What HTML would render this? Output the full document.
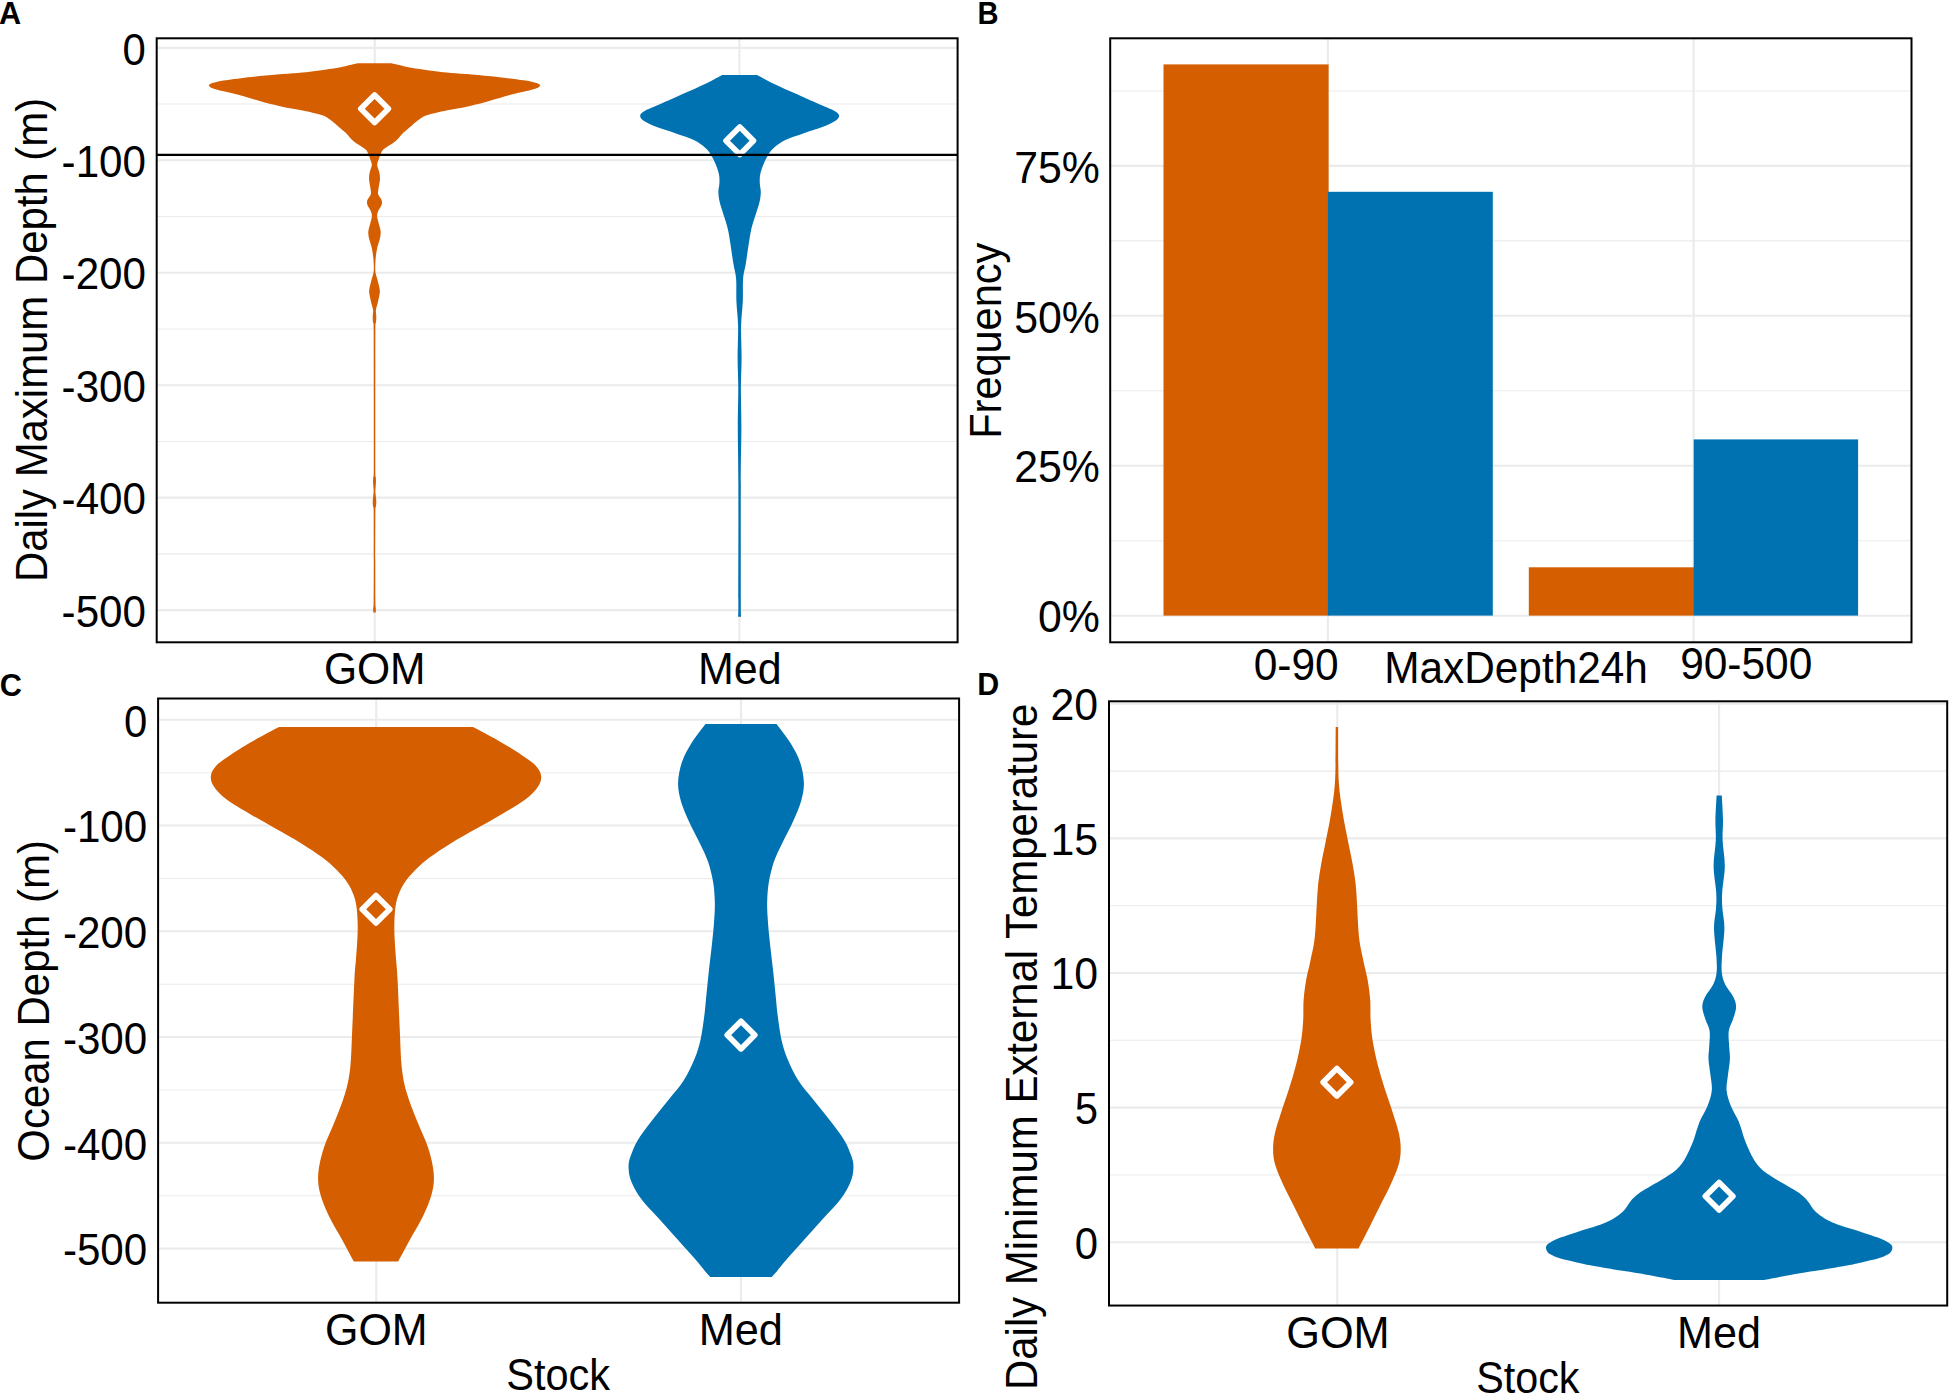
<!DOCTYPE html>
<html><head><meta charset="utf-8"><title>Figure</title>
<style>html,body{margin:0;padding:0;background:#fff;}svg{display:block;}text{font-family:"Liberation Sans",sans-serif;fill:#000;}</style>
</head><body>
<svg width="1949" height="1396" viewBox="0 0 1949 1396">
<rect width="1949" height="1396" fill="#fff"/>
<path d="M156.7 104.08H957.6" stroke="#ebebeb" stroke-width="1.05"/>
<path d="M156.7 216.53H957.6" stroke="#ebebeb" stroke-width="1.05"/>
<path d="M156.7 328.98H957.6" stroke="#ebebeb" stroke-width="1.05"/>
<path d="M156.7 441.43H957.6" stroke="#ebebeb" stroke-width="1.05"/>
<path d="M156.7 553.88H957.6" stroke="#ebebeb" stroke-width="1.05"/>
<path d="M156.7 47.85H957.6" stroke="#ebebeb" stroke-width="2.1"/>
<path d="M156.7 160.30H957.6" stroke="#ebebeb" stroke-width="2.1"/>
<path d="M156.7 272.75H957.6" stroke="#ebebeb" stroke-width="2.1"/>
<path d="M156.7 385.20H957.6" stroke="#ebebeb" stroke-width="2.1"/>
<path d="M156.7 497.65H957.6" stroke="#ebebeb" stroke-width="2.1"/>
<path d="M156.7 610.10H957.6" stroke="#ebebeb" stroke-width="2.1"/>
<path d="M374.80 38.3V642.3" stroke="#ebebeb" stroke-width="2.1"/>
<path d="M739.40 38.3V642.3" stroke="#ebebeb" stroke-width="2.1"/>
<path d="M357.4 63.3C356.7 63.5 355.0 63.8 353.0 64.3C351.0 64.8 349.1 65.4 345.2 66.2C341.3 67.0 334.7 68.2 329.4 69.0C324.1 69.8 318.9 70.5 313.6 71.2C308.4 71.8 304.0 72.4 297.9 73.0C291.8 73.5 284.8 73.9 277.0 74.6C269.2 75.3 259.9 76.1 251.3 77.0C242.7 77.9 231.6 79.4 225.7 80.3C219.7 81.2 218.0 81.7 215.4 82.3C212.8 82.9 211.4 83.4 210.3 83.9C209.2 84.4 208.9 84.8 209.0 85.4C209.1 86.0 209.7 86.9 210.8 87.5C211.9 88.1 212.9 88.5 215.4 89.2C217.9 89.9 221.4 90.8 225.7 91.8C229.9 92.8 236.7 94.3 241.0 95.4C245.3 96.5 247.0 97.2 251.3 98.5C255.6 99.8 262.4 101.8 266.7 103.0C271.0 104.2 273.1 104.5 277.0 105.4C280.9 106.3 285.9 107.4 290.0 108.2C294.1 109.0 297.6 109.5 301.5 110.3C305.4 111.1 310.3 112.1 313.6 112.9C316.9 113.7 319.1 114.2 321.5 115.0C323.9 115.8 325.7 116.7 327.8 118.0C329.9 119.3 331.9 121.0 334.1 122.8C336.3 124.6 339.1 127.3 341.2 129.1C343.3 130.9 345.1 132.2 346.7 133.8C348.3 135.4 349.1 136.9 350.7 138.5C352.3 140.1 354.2 141.8 356.2 143.2C358.2 144.7 360.8 146.0 362.5 147.2C364.2 148.4 365.4 149.2 366.4 150.3C367.4 151.5 367.8 153.0 368.4 154.3C369.0 155.6 369.2 156.2 369.8 157.9C370.4 159.6 371.6 162.4 371.8 164.2C372.0 166.0 371.3 167.0 370.9 168.5C370.5 170.0 369.8 171.5 369.5 173.2C369.2 174.8 369.0 176.7 369.0 178.4C369.0 180.1 369.4 181.8 369.6 183.5C369.9 185.2 370.3 187.0 370.5 188.7C370.7 190.4 371.3 192.2 370.9 193.9C370.5 195.6 368.5 197.6 367.9 199.0C367.2 200.4 367.0 201.1 367.0 202.3C367.0 203.5 367.2 204.5 367.9 206.1C368.6 207.7 370.5 210.1 371.1 211.9C371.8 213.7 372.0 214.9 371.8 217.1C371.6 219.2 370.5 222.3 369.9 224.8C369.3 227.3 368.4 229.5 368.3 231.9C368.2 234.3 368.6 236.3 369.2 239.0C369.8 241.7 371.1 244.7 371.8 248.1C372.5 251.5 373.2 255.8 373.5 259.7C373.8 263.6 374.1 267.9 373.7 271.3C373.3 274.7 372.1 277.3 371.4 280.3C370.7 283.3 369.6 287.2 369.3 289.4C369.0 291.5 369.0 291.0 369.3 293.2C369.6 295.4 370.5 299.5 371.1 302.3C371.7 305.1 372.8 307.6 373.1 310.0C373.4 312.4 372.7 314.4 372.7 316.5C372.7 318.6 372.8 320.6 373.0 322.9C373.2 325.1 373.6 317.1 373.7 330.0C373.8 342.9 373.7 376.7 373.8 400.0C373.8 423.3 373.8 457.3 373.8 470.0C373.7 482.7 373.4 474.2 373.3 476.0C373.2 477.8 373.0 479.3 373.0 481.0C373.0 482.7 373.2 484.3 373.3 486.0C373.4 487.7 373.7 489.2 373.7 491.0C373.7 492.8 373.3 495.2 373.1 497.0C372.9 498.8 372.7 500.1 372.7 501.8C372.7 503.5 372.9 505.3 373.1 507.0C373.3 508.7 373.6 503.2 373.7 512.0C373.8 520.8 373.8 545.3 373.8 560.0C373.8 574.7 373.8 591.9 373.7 600.0C373.6 608.1 373.3 606.4 373.2 608.5C373.1 610.6 373.3 611.9 373.3 612.6L375.7 612.6C375.7 611.9 375.9 610.6 375.8 608.5C375.7 606.4 375.4 608.1 375.3 600.0C375.2 591.9 375.2 574.7 375.2 560.0C375.2 545.3 375.2 520.8 375.3 512.0C375.4 503.2 375.7 508.7 375.9 507.0C376.1 505.3 376.3 503.5 376.3 501.8C376.3 500.1 376.1 498.8 375.9 497.0C375.7 495.2 375.3 492.8 375.3 491.0C375.3 489.2 375.6 487.7 375.7 486.0C375.8 484.3 376.0 482.7 376.0 481.0C376.0 479.3 375.8 477.8 375.7 476.0C375.6 474.2 375.3 482.7 375.2 470.0C375.2 457.3 375.2 423.3 375.2 400.0C375.3 376.7 375.2 342.9 375.3 330.0C375.4 317.1 375.8 325.1 376.0 322.9C376.2 320.6 376.3 318.6 376.3 316.5C376.3 314.4 375.6 312.4 375.9 310.0C376.2 307.6 377.3 305.1 377.9 302.3C378.5 299.5 379.4 295.4 379.7 293.2C380.0 291.0 380.0 291.5 379.7 289.4C379.4 287.2 378.3 283.3 377.6 280.3C376.9 277.3 375.7 274.7 375.3 271.3C374.9 267.9 375.2 263.6 375.5 259.7C375.8 255.8 376.5 251.5 377.2 248.1C377.9 244.7 379.2 241.7 379.8 239.0C380.4 236.3 380.8 234.3 380.7 231.9C380.6 229.5 379.7 227.3 379.1 224.8C378.5 222.3 377.4 219.2 377.2 217.1C377.0 214.9 377.2 213.7 377.9 211.9C378.5 210.1 380.4 207.7 381.1 206.1C381.8 204.5 382.0 203.5 382.0 202.3C382.0 201.1 381.8 200.4 381.1 199.0C380.5 197.6 378.5 195.6 378.1 193.9C377.7 192.2 378.3 190.4 378.5 188.7C378.7 187.0 379.1 185.2 379.4 183.5C379.6 181.8 380.0 180.1 380.0 178.4C380.0 176.7 379.8 174.8 379.5 173.2C379.2 171.5 378.5 170.0 378.1 168.5C377.7 167.0 377.0 166.0 377.2 164.2C377.4 162.4 378.6 159.6 379.2 157.9C379.8 156.2 380.0 155.6 380.6 154.3C381.2 153.0 381.6 151.5 382.6 150.3C383.6 149.2 384.8 148.4 386.5 147.2C388.2 146.0 390.8 144.7 392.8 143.2C394.8 141.8 396.7 140.1 398.3 138.5C399.9 136.9 400.7 135.4 402.3 133.8C403.9 132.2 405.7 130.9 407.8 129.1C409.9 127.3 412.7 124.6 414.9 122.8C417.1 121.0 419.1 119.3 421.2 118.0C423.3 116.7 425.1 115.8 427.5 115.0C429.9 114.2 432.1 113.7 435.4 112.9C438.7 112.1 443.6 111.1 447.5 110.3C451.4 109.5 454.9 109.0 459.0 108.2C463.1 107.4 468.1 106.3 472.0 105.4C475.9 104.5 478.0 104.2 482.3 103.0C486.6 101.8 493.4 99.8 497.7 98.5C502.0 97.2 503.7 96.5 508.0 95.4C512.3 94.3 519.1 92.8 523.4 91.8C527.6 90.8 531.1 89.9 533.6 89.2C536.1 88.5 537.1 88.1 538.2 87.5C539.3 86.9 539.9 86.0 540.0 85.4C540.1 84.8 539.8 84.4 538.7 83.9C537.6 83.4 536.2 82.9 533.6 82.3C531.0 81.7 529.3 81.2 523.4 80.3C517.4 79.4 506.3 77.9 497.7 77.0C489.1 76.1 479.8 75.3 472.0 74.6C464.2 73.9 457.2 73.5 451.1 73.0C445.0 72.4 440.6 71.8 435.4 71.2C430.1 70.5 424.9 69.8 419.6 69.0C414.3 68.2 407.7 67.0 403.8 66.2C399.9 65.4 398.0 64.8 396.0 64.3C394.0 63.8 392.3 63.5 391.6 63.3Z" fill="#D55E00"/>
<path d="M722.1 75.0C719.4 76.4 712.9 80.2 706.1 83.4C699.3 86.7 689.7 90.8 681.5 94.5C673.3 98.2 663.0 102.8 656.8 105.6C650.6 108.4 647.3 109.5 644.5 111.1C641.7 112.7 640.4 113.9 640.2 115.4C640.0 117.0 640.5 118.5 643.3 120.4C646.1 122.4 651.5 124.9 656.8 127.1C662.1 129.2 669.1 131.1 675.3 133.3C681.5 135.5 688.9 137.7 693.8 140.1C698.7 142.5 702.0 145.0 704.9 147.5C707.8 150.0 709.2 152.0 711.0 154.9C712.8 157.8 714.6 161.4 715.9 164.7C717.2 168.0 718.4 171.5 719.0 174.6C719.6 177.7 719.5 180.3 719.4 183.2C719.3 186.1 718.4 188.7 718.4 191.8C718.4 194.9 718.8 198.0 719.6 201.7C720.4 205.4 721.9 209.1 723.3 214.0C724.8 218.9 726.6 223.0 728.3 231.2C730.0 239.4 732.0 255.1 733.3 263.0C734.6 270.9 735.6 272.5 736.1 278.8C736.6 285.1 736.1 293.0 736.4 300.9C736.7 308.8 737.9 316.6 738.1 326.0C738.3 335.4 737.6 347.1 737.6 357.6C737.6 368.1 738.3 377.4 738.3 389.0C738.3 400.6 737.8 411.2 737.8 427.0C737.8 442.8 738.3 454.9 738.4 483.7C738.5 512.5 738.4 577.8 738.4 600.0C738.4 622.2 738.1 613.9 738.1 616.7L741.1 616.7C741.1 613.9 740.9 622.2 740.8 600.0C740.8 577.8 740.7 512.5 740.8 483.7C740.9 454.9 741.4 442.8 741.4 427.0C741.4 411.2 740.9 400.6 740.9 389.0C740.9 377.4 741.6 368.1 741.6 357.6C741.6 347.1 740.9 335.4 741.1 326.0C741.3 316.6 742.5 308.8 742.8 300.9C743.1 293.0 742.6 285.1 743.1 278.8C743.6 272.5 744.6 270.9 745.9 263.0C747.2 255.1 749.2 239.4 750.9 231.2C752.6 223.0 754.4 218.9 755.9 214.0C757.4 209.1 758.8 205.4 759.6 201.7C760.4 198.0 760.8 194.9 760.8 191.8C760.8 188.7 759.9 186.1 759.8 183.2C759.7 180.3 759.6 177.7 760.2 174.6C760.8 171.5 762.0 168.0 763.3 164.7C764.6 161.4 766.4 157.8 768.2 154.9C770.0 152.0 771.4 150.0 774.3 147.5C777.2 145.0 780.5 142.5 785.4 140.1C790.3 137.7 797.7 135.5 803.9 133.3C810.1 131.1 817.1 129.2 822.4 127.1C827.7 124.9 833.1 122.4 835.9 120.4C838.7 118.5 839.2 117.0 839.0 115.4C838.8 113.9 837.5 112.7 834.7 111.1C831.9 109.5 828.6 108.4 822.4 105.6C816.2 102.8 805.9 98.2 797.7 94.5C789.5 90.8 779.9 86.7 773.1 83.4C766.3 80.2 759.8 76.4 757.1 75.0Z" fill="#0072B2"/>
<path d="M374.6 95.0L388.4 108.8L374.6 122.6L360.8 108.8Z" fill="none" stroke="#fff" stroke-width="5.6" stroke-linejoin="round"/>
<path d="M739.8 126.9L753.5 140.7L739.8 154.5L726.0 140.7Z" fill="none" stroke="#fff" stroke-width="5.6" stroke-linejoin="round"/>
<path d="M156.7 154.8H957.6" stroke="#000" stroke-width="2.2"/>
<rect x="156.7" y="38.3" width="800.90" height="604.00" fill="none" stroke="#000" stroke-width="2.0"/>
<text x="122.60" y="64.55" font-size="43.6" textLength="23.29" lengthAdjust="spacingAndGlyphs">0</text>
<text x="61.61" y="177.00" font-size="43.6" textLength="84.34" lengthAdjust="spacingAndGlyphs">-100</text>
<text x="61.61" y="289.45" font-size="43.6" textLength="84.34" lengthAdjust="spacingAndGlyphs">-200</text>
<text x="61.61" y="401.90" font-size="43.6" textLength="84.34" lengthAdjust="spacingAndGlyphs">-300</text>
<text x="61.61" y="514.35" font-size="43.6" textLength="84.34" lengthAdjust="spacingAndGlyphs">-400</text>
<text x="61.61" y="626.80" font-size="43.6" textLength="84.34" lengthAdjust="spacingAndGlyphs">-500</text>
<text x="323.90" y="684.10" font-size="43.6" textLength="101.69" lengthAdjust="spacingAndGlyphs">GOM</text>
<text x="698.03" y="684.30" font-size="43.6" textLength="83.57" lengthAdjust="spacingAndGlyphs">Med</text>
<text transform="translate(47.30,582.09) rotate(-90)" font-size="43.5" textLength="484.23" lengthAdjust="spacingAndGlyphs">Daily Maximum Depth (m)</text>
<text x="-1.05" y="24.00" font-size="30.5" textLength="22.13" lengthAdjust="spacingAndGlyphs" font-weight="bold">A</text>
<path d="M1110.2 540.70H1911.5" stroke="#ebebeb" stroke-width="1.05"/>
<path d="M1110.2 390.75H1911.5" stroke="#ebebeb" stroke-width="1.05"/>
<path d="M1110.2 240.85H1911.5" stroke="#ebebeb" stroke-width="1.05"/>
<path d="M1110.2 91.00H1911.5" stroke="#ebebeb" stroke-width="1.05"/>
<path d="M1110.2 615.70H1911.5" stroke="#ebebeb" stroke-width="2.1"/>
<path d="M1110.2 465.70H1911.5" stroke="#ebebeb" stroke-width="2.1"/>
<path d="M1110.2 315.80H1911.5" stroke="#ebebeb" stroke-width="2.1"/>
<path d="M1110.2 165.90H1911.5" stroke="#ebebeb" stroke-width="2.1"/>
<path d="M1327.90 38.3V642.3" stroke="#ebebeb" stroke-width="2.1"/>
<path d="M1693.60 38.3V642.3" stroke="#ebebeb" stroke-width="2.1"/>
<rect x="1163.5" y="64.4" width="165.10" height="551.20" fill="#D55E00"/>
<rect x="1528.8" y="567.3" width="165.60" height="48.30" fill="#D55E00"/>
<rect x="1327.9" y="191.8" width="164.90" height="423.80" fill="#0072B2"/>
<rect x="1693.7" y="439.4" width="164.40" height="176.20" fill="#0072B2"/>
<rect x="1110.2" y="38.3" width="801.30" height="604.00" fill="none" stroke="#000" stroke-width="2.0"/>
<text x="1038.01" y="632.40" font-size="43.6" textLength="61.92" lengthAdjust="spacingAndGlyphs">0%</text>
<text x="1014.19" y="482.40" font-size="43.6" textLength="85.74" lengthAdjust="spacingAndGlyphs">25%</text>
<text x="1014.19" y="332.50" font-size="43.6" textLength="85.74" lengthAdjust="spacingAndGlyphs">50%</text>
<text x="1014.19" y="182.60" font-size="43.6" textLength="85.74" lengthAdjust="spacingAndGlyphs">75%</text>
<text x="1253.69" y="680.10" font-size="43.6" textLength="85.07" lengthAdjust="spacingAndGlyphs">0-90</text>
<text x="1680.15" y="679.10" font-size="43.6" textLength="132.11" lengthAdjust="spacingAndGlyphs">90-500</text>
<text x="1384.27" y="682.60" font-size="43.5" textLength="263.59" lengthAdjust="spacingAndGlyphs">MaxDepth24h</text>
<text transform="translate(1001.10,438.76) rotate(-90)" font-size="43.5" textLength="196.00" lengthAdjust="spacingAndGlyphs">Frequency</text>
<text x="977.39" y="24.00" font-size="30.5" textLength="21.05" lengthAdjust="spacingAndGlyphs" font-weight="bold">B</text>
<path d="M158.1 772.67H959.1" stroke="#ebebeb" stroke-width="1.05"/>
<path d="M158.1 878.42H959.1" stroke="#ebebeb" stroke-width="1.05"/>
<path d="M158.1 984.17H959.1" stroke="#ebebeb" stroke-width="1.05"/>
<path d="M158.1 1089.92H959.1" stroke="#ebebeb" stroke-width="1.05"/>
<path d="M158.1 1195.67H959.1" stroke="#ebebeb" stroke-width="1.05"/>
<path d="M158.1 719.80H959.1" stroke="#ebebeb" stroke-width="2.1"/>
<path d="M158.1 825.55H959.1" stroke="#ebebeb" stroke-width="2.1"/>
<path d="M158.1 931.30H959.1" stroke="#ebebeb" stroke-width="2.1"/>
<path d="M158.1 1037.05H959.1" stroke="#ebebeb" stroke-width="2.1"/>
<path d="M158.1 1142.80H959.1" stroke="#ebebeb" stroke-width="2.1"/>
<path d="M158.1 1248.55H959.1" stroke="#ebebeb" stroke-width="2.1"/>
<path d="M376.20 698.5V1302.7" stroke="#ebebeb" stroke-width="2.1"/>
<path d="M741.00 698.5V1302.7" stroke="#ebebeb" stroke-width="2.1"/>
<path d="M279.0 727.1C274.8 729.3 262.1 735.9 254.0 740.5C245.9 745.1 236.8 750.7 230.5 754.9C224.2 759.1 219.5 762.1 216.2 765.7C212.9 769.3 211.1 772.8 210.8 776.4C210.5 780.0 211.7 783.3 214.4 787.2C217.1 791.1 221.0 795.3 227.0 799.8C233.0 804.3 242.2 809.4 250.3 814.2C258.4 819.0 267.0 823.7 275.4 828.5C283.8 833.3 292.8 838.1 300.6 842.9C308.4 847.7 316.1 852.8 322.1 857.3C328.1 861.8 332.3 865.6 336.5 869.8C340.7 874.0 344.4 878.2 347.3 882.4C350.2 886.6 352.1 890.8 353.6 895.0C355.2 899.2 355.9 902.4 356.6 907.5C357.3 912.6 357.6 919.5 357.7 925.5C357.8 931.5 357.4 937.8 357.1 943.5C356.8 949.2 356.3 953.9 355.9 960.0C355.4 966.1 355.0 968.4 354.4 980.1C353.8 991.8 352.9 1015.7 352.2 1030.3C351.5 1044.9 351.4 1057.5 350.2 1067.9C349.0 1078.4 347.7 1084.2 345.2 1093.0C342.7 1101.8 338.7 1111.4 335.1 1120.6C331.5 1129.8 326.6 1139.3 323.8 1148.1C321.0 1156.9 318.9 1165.7 318.3 1173.2C317.7 1180.7 318.3 1186.2 320.1 1193.3C321.9 1200.4 325.3 1208.4 328.9 1215.9C332.4 1223.4 337.2 1230.8 341.4 1238.4C345.6 1246.0 351.8 1257.7 353.9 1261.5L398.1 1261.5C400.2 1257.7 406.4 1246.0 410.6 1238.4C414.8 1230.8 419.6 1223.4 423.1 1215.9C426.7 1208.4 430.1 1200.4 431.9 1193.3C433.7 1186.2 434.3 1180.7 433.7 1173.2C433.1 1165.7 431.0 1156.9 428.2 1148.1C425.4 1139.3 420.5 1129.8 416.9 1120.6C413.3 1111.4 409.3 1101.8 406.8 1093.0C404.3 1084.2 403.0 1078.4 401.8 1067.9C400.6 1057.5 400.5 1044.9 399.8 1030.3C399.1 1015.7 398.2 991.8 397.6 980.1C397.0 968.4 396.6 966.1 396.1 960.0C395.7 953.9 395.2 949.2 394.9 943.5C394.6 937.8 394.2 931.5 394.3 925.5C394.4 919.5 394.7 912.6 395.4 907.5C396.1 902.4 396.8 899.2 398.4 895.0C399.9 890.8 401.8 886.6 404.7 882.4C407.6 878.2 411.3 874.0 415.5 869.8C419.7 865.6 423.9 861.8 429.9 857.3C435.9 852.8 443.6 847.7 451.4 842.9C459.2 838.1 468.2 833.3 476.6 828.5C485.0 823.7 493.6 819.0 501.7 814.2C509.8 809.4 519.0 804.3 525.0 799.8C531.0 795.3 534.9 791.1 537.6 787.2C540.3 783.3 541.5 780.0 541.2 776.4C540.9 772.8 539.1 769.3 535.8 765.7C532.5 762.1 527.8 759.1 521.5 754.9C515.2 750.7 506.1 745.1 498.0 740.5C489.9 735.9 477.2 729.3 473.0 727.1Z" fill="#D55E00"/>
<path d="M705.5 723.9C703.1 727.1 695.3 736.9 691.4 743.2C687.5 749.5 684.2 755.3 682.0 761.9C679.8 768.5 678.3 776.1 678.1 782.7C677.9 789.3 679.1 794.8 681.0 801.4C682.9 808.0 686.2 815.3 689.3 822.2C692.4 829.1 696.6 836.3 699.7 842.9C702.8 849.5 705.8 855.0 708.0 861.6C710.2 868.2 712.1 875.8 713.2 882.4C714.3 889.0 714.6 894.9 714.8 901.1C715.0 907.3 714.7 912.9 714.2 919.8C713.8 926.7 713.0 934.4 712.1 942.7C711.2 951.0 710.0 961.0 709.0 969.7C708.0 978.4 707.2 987.3 706.4 995.0C705.6 1002.7 705.3 1008.4 704.3 1015.8C703.3 1023.2 702.2 1032.2 700.6 1039.4C699.0 1046.6 697.4 1052.0 694.6 1058.8C691.8 1065.6 688.1 1073.5 683.8 1080.3C679.5 1087.1 674.2 1092.8 668.8 1099.6C663.4 1106.4 656.8 1114.3 651.6 1121.1C646.4 1127.9 641.2 1134.3 637.6 1140.4C634.0 1146.5 631.6 1152.9 630.1 1157.6C628.6 1162.3 628.4 1164.5 628.6 1168.4C628.8 1172.3 629.2 1176.2 631.2 1181.2C633.2 1186.2 636.4 1192.3 640.9 1198.4C645.4 1204.5 652.0 1211.0 658.1 1217.8C664.2 1224.6 671.3 1232.5 677.4 1239.3C683.5 1246.1 690.0 1253.2 694.6 1258.6C699.2 1264.0 702.7 1268.4 705.3 1271.5C707.9 1274.6 709.5 1276.2 710.3 1277.1L771.7 1277.1C772.5 1276.2 774.1 1274.6 776.7 1271.5C779.3 1268.4 782.8 1264.0 787.4 1258.6C792.0 1253.2 798.5 1246.1 804.6 1239.3C810.7 1232.5 817.8 1224.6 823.9 1217.8C830.0 1211.0 836.6 1204.5 841.1 1198.4C845.6 1192.3 848.8 1186.2 850.8 1181.2C852.8 1176.2 853.2 1172.3 853.4 1168.4C853.6 1164.5 853.4 1162.3 851.9 1157.6C850.4 1152.9 848.0 1146.5 844.4 1140.4C840.8 1134.3 835.6 1127.9 830.4 1121.1C825.2 1114.3 818.6 1106.4 813.2 1099.6C807.8 1092.8 802.5 1087.1 798.2 1080.3C793.9 1073.5 790.2 1065.6 787.4 1058.8C784.6 1052.0 783.0 1046.6 781.4 1039.4C779.8 1032.2 778.7 1023.2 777.7 1015.8C776.7 1008.4 776.4 1002.7 775.6 995.0C774.8 987.3 774.0 978.4 773.0 969.7C772.0 961.0 770.8 951.0 769.9 942.7C769.0 934.4 768.2 926.7 767.8 919.8C767.3 912.9 767.0 907.3 767.2 901.1C767.4 894.9 767.7 889.0 768.8 882.4C769.9 875.8 771.8 868.2 774.0 861.6C776.2 855.0 779.2 849.5 782.3 842.9C785.4 836.3 789.6 829.1 792.7 822.2C795.8 815.3 799.1 808.0 801.0 801.4C802.9 794.8 804.1 789.3 803.9 782.7C803.7 776.1 802.2 768.5 800.0 761.9C797.8 755.3 794.5 749.5 790.6 743.2C786.7 736.9 778.9 727.1 776.5 723.9Z" fill="#0072B2"/>
<path d="M376.0 895.5L389.8 909.3L376.0 923.1L362.2 909.3Z" fill="none" stroke="#fff" stroke-width="5.6" stroke-linejoin="round"/>
<path d="M741.0 1021.3L754.8 1035.1L741.0 1048.9L727.2 1035.1Z" fill="none" stroke="#fff" stroke-width="5.6" stroke-linejoin="round"/>
<rect x="158.1" y="698.5" width="801.00" height="604.20" fill="none" stroke="#000" stroke-width="2.0"/>
<text x="123.90" y="736.50" font-size="43.6" textLength="23.29" lengthAdjust="spacingAndGlyphs">0</text>
<text x="62.91" y="842.25" font-size="43.6" textLength="84.34" lengthAdjust="spacingAndGlyphs">-100</text>
<text x="62.91" y="948.00" font-size="43.6" textLength="84.34" lengthAdjust="spacingAndGlyphs">-200</text>
<text x="62.91" y="1053.75" font-size="43.6" textLength="84.34" lengthAdjust="spacingAndGlyphs">-300</text>
<text x="62.91" y="1159.50" font-size="43.6" textLength="84.34" lengthAdjust="spacingAndGlyphs">-400</text>
<text x="62.91" y="1265.25" font-size="43.6" textLength="84.34" lengthAdjust="spacingAndGlyphs">-500</text>
<text x="324.98" y="1344.90" font-size="43.6" textLength="102.64" lengthAdjust="spacingAndGlyphs">GOM</text>
<text x="698.70" y="1344.90" font-size="43.6" textLength="84.21" lengthAdjust="spacingAndGlyphs">Med</text>
<text x="506.19" y="1390.30" font-size="43.5" textLength="103.85" lengthAdjust="spacingAndGlyphs">Stock</text>
<text transform="translate(48.60,1161.63) rotate(-90)" font-size="43.5" textLength="321.58" lengthAdjust="spacingAndGlyphs">Ocean Depth (m)</text>
<text x="-0.16" y="695.50" font-size="30.5" textLength="22.16" lengthAdjust="spacingAndGlyphs" font-weight="bold">C</text>
<path d="M1109.0 1174.90H1947.2" stroke="#ebebeb" stroke-width="1.05"/>
<path d="M1109.0 1040.30H1947.2" stroke="#ebebeb" stroke-width="1.05"/>
<path d="M1109.0 905.70H1947.2" stroke="#ebebeb" stroke-width="1.05"/>
<path d="M1109.0 771.10H1947.2" stroke="#ebebeb" stroke-width="1.05"/>
<path d="M1109.0 1242.20H1947.2" stroke="#ebebeb" stroke-width="2.1"/>
<path d="M1109.0 1107.60H1947.2" stroke="#ebebeb" stroke-width="2.1"/>
<path d="M1109.0 973.00H1947.2" stroke="#ebebeb" stroke-width="2.1"/>
<path d="M1109.0 838.40H1947.2" stroke="#ebebeb" stroke-width="2.1"/>
<path d="M1109.0 703.80H1947.2" stroke="#ebebeb" stroke-width="2.1"/>
<path d="M1337.20 701.3V1305.55" stroke="#ebebeb" stroke-width="2.1"/>
<path d="M1719.10 701.3V1305.55" stroke="#ebebeb" stroke-width="2.1"/>
<path d="M1335.7 727.0C1335.7 733.4 1335.6 755.8 1335.5 765.2C1335.4 774.6 1335.3 777.2 1334.9 783.2C1334.5 789.2 1333.8 794.9 1332.9 801.3C1332.0 807.6 1331.0 814.3 1329.7 821.3C1328.4 828.3 1326.7 836.4 1325.3 843.4C1323.9 850.4 1322.5 856.7 1321.3 863.4C1320.1 870.1 1319.0 876.8 1318.2 883.5C1317.5 890.2 1317.2 896.9 1316.8 903.6C1316.4 910.3 1316.2 917.2 1315.8 923.6C1315.4 930.0 1315.1 935.4 1314.2 941.7C1313.3 948.1 1311.5 955.4 1310.2 961.7C1308.9 968.1 1307.3 973.4 1306.2 979.8C1305.1 986.2 1304.1 993.4 1303.6 1000.1C1303.1 1006.8 1303.6 1013.4 1303.2 1020.1C1302.8 1026.8 1302.4 1032.8 1301.2 1040.2C1300.0 1047.6 1298.2 1056.3 1296.2 1064.3C1294.2 1072.3 1291.7 1080.3 1289.2 1088.3C1286.7 1096.3 1283.5 1105.0 1281.1 1112.4C1278.8 1119.8 1276.4 1126.5 1275.1 1132.5C1273.8 1138.5 1273.1 1143.2 1273.1 1148.5C1273.1 1153.8 1273.4 1158.6 1275.1 1164.6C1276.8 1170.6 1279.8 1177.2 1283.1 1184.6C1286.5 1191.9 1291.2 1200.7 1295.2 1208.7C1299.2 1216.7 1303.9 1226.2 1307.2 1232.8C1310.5 1239.4 1313.9 1245.8 1315.2 1248.4L1358.6 1248.4C1359.9 1245.8 1363.3 1239.4 1366.6 1232.8C1369.9 1226.2 1374.6 1216.7 1378.6 1208.7C1382.6 1200.7 1387.4 1191.9 1390.7 1184.6C1394.0 1177.2 1397.0 1170.6 1398.7 1164.6C1400.4 1158.6 1400.7 1153.8 1400.7 1148.5C1400.7 1143.2 1400.0 1138.5 1398.7 1132.5C1397.4 1126.5 1395.0 1119.8 1392.7 1112.4C1390.4 1105.0 1387.1 1096.3 1384.6 1088.3C1382.1 1080.3 1379.6 1072.3 1377.6 1064.3C1375.6 1056.3 1373.8 1047.6 1372.6 1040.2C1371.4 1032.8 1371.0 1026.8 1370.6 1020.1C1370.2 1013.4 1370.7 1006.8 1370.2 1000.1C1369.7 993.4 1368.7 986.2 1367.6 979.8C1366.5 973.4 1364.9 968.1 1363.6 961.7C1362.3 955.4 1360.5 948.1 1359.6 941.7C1358.7 935.4 1358.4 930.0 1358.0 923.6C1357.6 917.2 1357.4 910.3 1357.0 903.6C1356.6 896.9 1356.4 890.2 1355.6 883.5C1354.9 876.8 1353.7 870.1 1352.5 863.4C1351.3 856.7 1349.9 850.4 1348.5 843.4C1347.1 836.4 1345.4 828.3 1344.1 821.3C1342.8 814.3 1341.8 807.6 1340.9 801.3C1340.0 794.9 1339.3 789.2 1338.9 783.2C1338.5 777.2 1338.4 774.6 1338.3 765.2C1338.2 755.8 1338.1 733.4 1338.1 727.0Z" fill="#D55E00"/>
<path d="M1716.6 795.6C1716.4 799.7 1715.5 812.7 1715.4 820.1C1715.3 827.5 1716.1 832.5 1715.8 840.2C1715.5 847.9 1713.5 857.6 1713.6 866.3C1713.7 875.0 1715.8 885.3 1716.2 892.3C1716.6 899.3 1716.4 902.4 1716.0 908.4C1715.6 914.4 1713.9 920.4 1714.0 928.4C1714.1 936.4 1716.0 949.1 1716.4 956.5C1716.8 963.9 1717.1 967.9 1716.6 972.6C1716.1 977.3 1715.1 980.6 1713.2 984.6C1711.3 988.6 1707.0 993.0 1705.2 996.7C1703.4 1000.4 1702.3 1003.0 1702.3 1006.7C1702.3 1010.4 1704.0 1014.7 1705.2 1018.7C1706.4 1022.7 1708.9 1026.1 1709.6 1030.8C1710.3 1035.5 1709.4 1042.1 1709.2 1046.8C1709.0 1051.5 1708.3 1054.5 1708.5 1059.2C1708.7 1063.9 1709.9 1069.6 1710.4 1074.8C1711.0 1080.0 1712.3 1085.2 1711.8 1090.4C1711.3 1095.6 1709.5 1100.8 1707.5 1106.0C1705.5 1111.2 1702.0 1116.1 1699.7 1121.6C1697.4 1127.1 1695.6 1134.5 1693.9 1139.2C1692.2 1143.9 1690.7 1147.1 1689.4 1150.0C1688.1 1152.9 1687.3 1154.5 1686.1 1156.7C1684.9 1158.9 1683.8 1161.1 1682.1 1163.3C1680.4 1165.5 1678.3 1168.0 1676.1 1170.0C1673.9 1172.0 1671.4 1173.6 1668.7 1175.3C1666.0 1177.1 1663.1 1178.9 1660.0 1180.7C1656.9 1182.5 1653.2 1184.5 1650.0 1186.4C1646.8 1188.3 1643.4 1190.2 1640.7 1192.0C1638.0 1193.8 1635.9 1195.6 1634.0 1197.4C1632.1 1199.2 1630.8 1200.8 1629.4 1202.7C1628.0 1204.6 1627.0 1206.8 1625.4 1208.7C1623.8 1210.6 1622.2 1212.2 1620.0 1214.0C1617.8 1215.8 1614.8 1217.8 1612.0 1219.4C1609.2 1221.0 1607.0 1222.0 1603.3 1223.4C1599.6 1224.9 1594.6 1226.6 1590.0 1228.1C1585.4 1229.6 1580.8 1230.8 1575.9 1232.4C1571.0 1234.0 1564.8 1235.9 1560.5 1237.6C1556.2 1239.3 1552.6 1241.2 1550.3 1242.5C1548.0 1243.7 1547.5 1244.3 1546.8 1245.2C1546.1 1246.1 1546.0 1246.9 1546.0 1247.8C1546.1 1248.8 1546.2 1249.8 1546.9 1250.9C1547.6 1252.0 1548.0 1253.0 1550.3 1254.2C1552.6 1255.5 1556.2 1257.3 1560.5 1258.6C1564.8 1259.9 1570.8 1261.0 1575.9 1262.2C1581.0 1263.4 1584.5 1264.2 1591.3 1265.5C1598.1 1266.8 1608.9 1268.6 1617.0 1269.9C1625.1 1271.2 1630.4 1271.8 1640.0 1273.5C1649.6 1275.2 1668.7 1278.8 1674.4 1279.9L1764.0 1279.9C1769.7 1278.8 1788.8 1275.2 1798.4 1273.5C1808.0 1271.8 1813.3 1271.2 1821.4 1269.9C1829.5 1268.6 1840.3 1266.8 1847.1 1265.5C1854.0 1264.2 1857.4 1263.4 1862.5 1262.2C1867.6 1261.0 1873.6 1259.9 1877.9 1258.6C1882.2 1257.3 1885.8 1255.5 1888.1 1254.2C1890.4 1253.0 1890.8 1252.0 1891.5 1250.9C1892.2 1249.8 1892.3 1248.8 1892.4 1247.8C1892.4 1246.9 1892.3 1246.1 1891.6 1245.2C1890.9 1244.3 1890.4 1243.7 1888.1 1242.5C1885.8 1241.2 1882.2 1239.3 1877.9 1237.6C1873.6 1235.9 1867.4 1234.0 1862.5 1232.4C1857.6 1230.8 1853.0 1229.6 1848.4 1228.1C1843.8 1226.6 1838.8 1224.9 1835.1 1223.4C1831.4 1222.0 1829.2 1221.0 1826.4 1219.4C1823.6 1217.8 1820.6 1215.8 1818.4 1214.0C1816.2 1212.2 1814.6 1210.6 1813.0 1208.7C1811.4 1206.8 1810.4 1204.6 1809.0 1202.7C1807.6 1200.8 1806.3 1199.2 1804.4 1197.4C1802.5 1195.6 1800.4 1193.8 1797.7 1192.0C1795.0 1190.2 1791.6 1188.3 1788.4 1186.4C1785.2 1184.5 1781.5 1182.5 1778.4 1180.7C1775.3 1178.9 1772.4 1177.1 1769.7 1175.3C1767.0 1173.6 1764.5 1172.0 1762.3 1170.0C1760.1 1168.0 1758.0 1165.5 1756.3 1163.3C1754.6 1161.1 1753.5 1158.9 1752.3 1156.7C1751.1 1154.5 1750.3 1152.9 1749.0 1150.0C1747.7 1147.1 1746.2 1143.9 1744.5 1139.2C1742.8 1134.5 1741.0 1127.1 1738.7 1121.6C1736.4 1116.1 1732.9 1111.2 1730.9 1106.0C1728.9 1100.8 1727.1 1095.6 1726.6 1090.4C1726.1 1085.2 1727.5 1080.0 1728.0 1074.8C1728.5 1069.6 1729.7 1063.9 1729.9 1059.2C1730.1 1054.5 1729.4 1051.5 1729.2 1046.8C1729.0 1042.1 1728.1 1035.5 1728.8 1030.8C1729.5 1026.1 1732.0 1022.7 1733.2 1018.7C1734.4 1014.7 1736.1 1010.4 1736.1 1006.7C1736.1 1003.0 1735.0 1000.4 1733.2 996.7C1731.4 993.0 1727.1 988.6 1725.2 984.6C1723.3 980.6 1722.3 977.3 1721.8 972.6C1721.3 967.9 1721.6 963.9 1722.0 956.5C1722.4 949.1 1724.3 936.4 1724.4 928.4C1724.5 920.4 1722.8 914.4 1722.4 908.4C1722.0 902.4 1721.8 899.3 1722.2 892.3C1722.6 885.3 1724.7 875.0 1724.8 866.3C1724.9 857.6 1722.9 847.9 1722.6 840.2C1722.3 832.5 1723.1 827.5 1723.0 820.1C1722.9 812.7 1722.0 799.7 1721.8 795.6Z" fill="#0072B2"/>
<path d="M1336.9 1068.5L1350.7 1082.3L1336.9 1096.1L1323.1 1082.3Z" fill="none" stroke="#fff" stroke-width="5.6" stroke-linejoin="round"/>
<path d="M1719.1 1182.5L1732.9 1196.3L1719.1 1210.1L1705.3 1196.3Z" fill="none" stroke="#fff" stroke-width="5.6" stroke-linejoin="round"/>
<rect x="1109.0" y="701.3" width="838.20" height="604.25" fill="none" stroke="#000" stroke-width="2.0"/>
<text x="1074.75" y="1258.60" font-size="43.6" textLength="23.29" lengthAdjust="spacingAndGlyphs">0</text>
<text x="1074.87" y="1124.00" font-size="43.6" textLength="23.29" lengthAdjust="spacingAndGlyphs">5</text>
<text x="1050.44" y="989.40" font-size="43.6" textLength="47.65" lengthAdjust="spacingAndGlyphs">10</text>
<text x="1050.56" y="854.80" font-size="43.6" textLength="47.65" lengthAdjust="spacingAndGlyphs">15</text>
<text x="1050.44" y="720.20" font-size="43.6" textLength="47.65" lengthAdjust="spacingAndGlyphs">20</text>
<text x="1286.27" y="1347.70" font-size="43.6" textLength="103.39" lengthAdjust="spacingAndGlyphs">GOM</text>
<text x="1677.02" y="1347.70" font-size="43.6" textLength="83.89" lengthAdjust="spacingAndGlyphs">Med</text>
<text x="1476.20" y="1392.70" font-size="43.5" textLength="103.34" lengthAdjust="spacingAndGlyphs">Stock</text>
<text transform="translate(1037.00,1389.99) rotate(-90)" font-size="43.5" textLength="686.21" lengthAdjust="spacingAndGlyphs">Daily Minimum External Temperature</text>
<text x="977.21" y="695.30" font-size="30.5" textLength="21.97" lengthAdjust="spacingAndGlyphs" font-weight="bold">D</text>
</svg>
</body></html>
